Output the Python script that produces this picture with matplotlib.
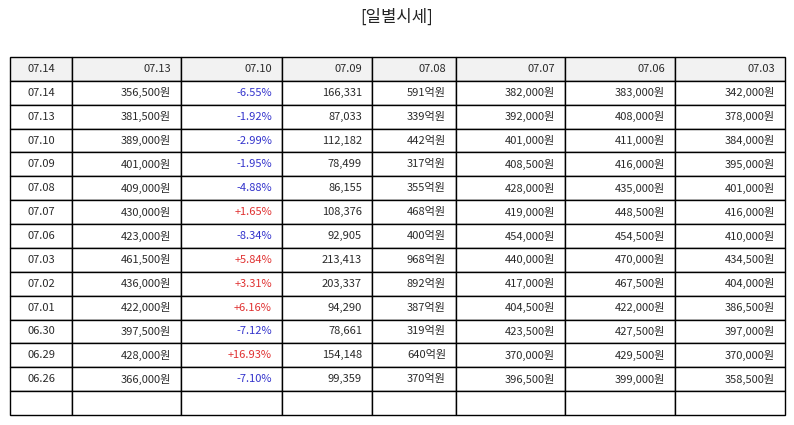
import matplotlib
matplotlib.use('Agg')
import matplotlib.pyplot as plt

plt.rcParams['font.family'] = ['Noto Sans CJK KR', 'DejaVu Sans']

header = ['07.14', '07.13', '07.10', '07.09', '07.08', '07.07', '07.06', '07.03']
dates = ['07.14', '07.13', '07.10', '07.09', '07.08', '07.07', '07.06',
         '07.03', '07.02', '07.01', '06.30', '06.29', '06.26']
close = ['356,500원', '381,500원', '389,000원', '401,000원', '409,000원', '430,000원', '423,000원',
         '461,500원', '436,000원', '422,000원', '397,500원', '428,000원', '366,000원']
change = [-6.55, -1.92, -2.99, -1.95, -4.88, 1.65, -8.34,
          5.84, 3.31, 6.16, -7.12, 16.93, -7.10]
volume = ['166,331', '87,033', '112,182', '78,499', '86,155', '108,376', '92,905',
          '213,413', '203,337', '94,290', '78,661', '154,148', '99,359']
amount = ['591억원', '339억원', '442억원', '317억원', '355억원', '468억원', '400억원',
          '968억원', '892억원', '387억원', '319억원', '640억원', '370억원']
open_ = ['382,000원', '392,000원', '401,000원', '408,500원', '428,000원', '419,000원', '454,000원',
         '440,000원', '417,000원', '404,500원', '423,500원', '370,000원', '396,500원']
high = ['383,000원', '408,000원', '411,000원', '416,000원', '435,000원', '448,500원', '454,500원',
        '470,000원', '467,500원', '422,000원', '427,500원', '429,500원', '399,000원']
low = ['342,000원', '378,000원', '384,000원', '395,000원', '401,000원', '416,000원', '410,000원',
       '434,500원', '404,000원', '386,500원', '397,000원', '370,000원', '358,500원']

col_px = [62, 109, 101, 90, 84, 109, 110, 110]
W, H = 794, 425
fig = plt.figure(figsize=(W / 100, H / 100), dpi=100)
ax = fig.add_axes([0, 0, 1, 1])
ax.axis('off')

fig.text(0.5, 1 - 17 / H, '[일별시세]', ha='center', va='center', fontsize=12, color='#222222')

rows = []
for i in range(len(dates)):
    rows.append([dates[i], close[i], '%+.2f%%' % change[i], volume[i], amount[i],
                 open_[i], high[i], low[i]])
rows.append([''] * 8)

total = sum(col_px)
left, right, top, bottom = 10, 785, 57, 415
tbl = ax.table(cellText=rows, colLabels=header,
               colWidths=[c / total for c in col_px],
               bbox=[left / W, 1 - bottom / H, (right - left) / W, (bottom - top) / H])
tbl.auto_set_font_size(False)
tbl.set_fontsize(8)

for (r, c), cell in tbl.get_celld().items():
    cell.set_edgecolor('black')
    cell.set_linewidth(1.0)
    txt = cell.get_text()
    txt.set_color('#2a2a2a')
    if c == 0:
        cell._loc = 'center'
        txt.set_ha('center')
    else:
        cell._loc = 'right'
        txt.set_ha('right')
        cell.PAD = 10 / col_px[c]
    if r == 0:
        cell.set_facecolor('#f2f2f2')
    else:
        cell.set_facecolor('white')
        if c == 2 and r - 1 < len(change):
            txt.set_color('#e03131' if change[r - 1] > 0 else '#3333cc')

fig.savefig('out.png', dpi=100)
